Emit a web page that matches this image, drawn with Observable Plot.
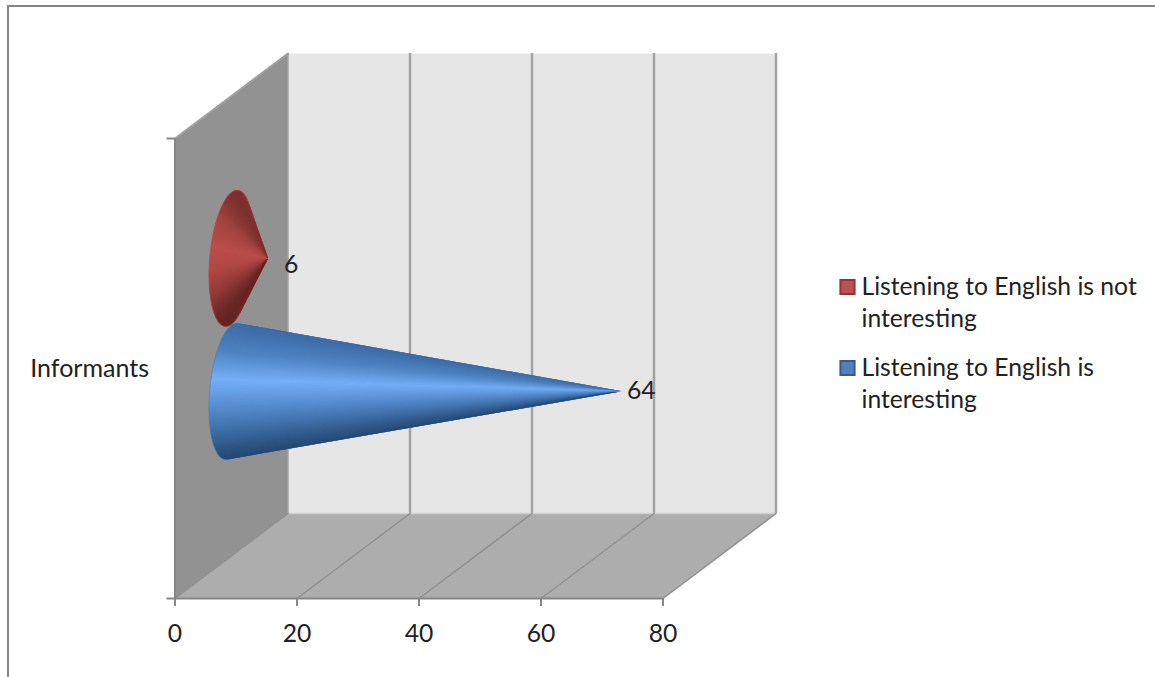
<!DOCTYPE html>
<html>
<head>
<meta charset="utf-8">
<script src="https://cdn.jsdelivr.net/npm/d3@7"></script>
<script src="https://cdn.jsdelivr.net/npm/@observablehq/plot@0.6"></script>
<style>
  html, body { margin: 0; padding: 0; background: #fff; overflow: hidden; }
  #chart { position: relative; width: 1155px; height: 677px; }
  #chart svg { position: absolute; left: 0; top: 0; }
  /* sheet outline: only the top and left edges fall inside the page */
  #sheet { position: absolute; left: 7px; top: 5px; right: -4px; bottom: -4px; border: 2.5px solid #858585; }
</style>
</head>
<body>
<div id="chart"><div id="sheet"></div></div>
<script>
const category = "Informants";
const seriesNames = ["Listening to English is not\ninteresting", "Listening to English is\ninteresting"];
const seriesValues = [6, 64];
const seriesSlots = [0.647, 0.358];      // position of each cone along the category axis
const xTicks = [0, 20, 40, 60, 80];
const yTicks = [0, 1];
const swatchColors = ["#c0504d", "#4f81bd"];
const swatchStrokes = ["#8c3836", "#385d8a"];
const shadeStops = [0, 0.2, 0.41, 0.58, 0.77, 1];
const shadeRamps = [
  ["#7a302e", "#a4443f", "#bb4e4a", "#b04844", "#933b38", "#5f2422"],
  ["#3c6ba5", "#4f83c2", "#75aff7", "#5c93d8", "#4273ad", "#24466f"]
];

// Oblique projection of the 3D chart box: depth 1 is the back wall.
const depthX = 113 / 6.1;
const depthY = 85 / 460;
const project = (value, slot, depth) => ({x: value + depth * depthX, y: slot + depth * depthY});

// Filled polygons for the box walls, as rows tagged by face.
const face = (id, fill, corners) => corners.map(([v, s, d]) => ({id, fill, ...project(v, s, d)}));
const walls = [
  ...face("back", "#e6e6e6", [[0, 0, 1], [80, 0, 1], [80, 1, 1], [0, 1, 1]]),
  ...face("side", "#929292", [[0, 0, 0], [0, 0, 1], [0, 1, 1], [0, 1, 0]]),
  ...face("floor", "#adadad", [[0, 0, 0], [80, 0, 0], [80, 0, 1], [0, 0, 1]])
];
const backGrid = xTicks.slice(1).map((v) => project(v, 0, 1).x);
const floorEdges = xTicks.flatMap((v) => [
  {id: v, ...project(v, 0, 0)},
  {id: v, ...project(v, 0, 1)}
]);
const sideEdges = [
  {id: "top", ...project(0, 1, 0)}, {id: "top", ...project(0, 1, 1)}
];

// Cone lying along x: fan of slices from the tip to the visible arc of the base circle.
const baseDepth = 0.2;    // radius of the base, in depth units
const baseSlot = 0.1435;  // radius of the base, in slot units
function cone(value, slot, ramp) {
  const c = project(0, slot, 0.5);
  const tip = project(value, slot, 0.5);
  const w = baseDepth * depthX, h = baseDepth * depthY;
  const point = (t) => ({
    x: c.x - w * Math.sin(t),
    y: c.y + baseSlot * Math.cos(t) - h * Math.sin(t)
  });
  // Tangents from the tip to the base ellipse bound the visible arc.
  const b = -(tip.x - c.x) / w, a = (h * b) / baseSlot;
  const mid = Math.atan2(b, a) + Math.PI;
  const half = Math.PI - Math.acos(1 / Math.hypot(a, b));
  const n = 260;
  const arc = d3.range(n + 1).map((i) => point(mid - half + (2 * half * i) / n));
  const [lo, hi] = d3.extent(arc, (p) => p.y);
  const shade = d3.scaleLinear().domain(shadeStops).range(ramp);
  // Each slice overlaps the next one so no seams open between them.
  const slices = d3.range(n).flatMap((i) => {
    const color = shade((hi - (arc[i].y + arc[i + 1].y) / 2) / (hi - lo));
    return [tip, arc[i], arc[i + 1], arc[Math.min(i + 2, n)]].map((p) => ({...p, id: i, color}));
  });
  return {slices, arc, outline: [tip, ...arc]};
}
const cones = seriesValues.map((v, i) => cone(v, seriesSlots[i], shadeRamps[i]));

const fontFamily = "Lato, sans-serif";
const textFill = "#222";
const fontSize = 24.7;
const axisStroke = "#868686";

// Value label placed just past a cone's tip.
const valueLabel = (i, dx, dy) => Plot.text([seriesValues[i]], {
  x: project(seriesValues[i], seriesSlots[i], 0.5).x,
  y: project(seriesValues[i], seriesSlots[i], 0.5).y,
  dx, dy, text: (d) => String(d), textAnchor: "start", fontSize, fill: textFill
});

// Legend entry, offset from the frame's top-left corner.
const legendEntry = (i, rowOffset) => [
  Plot.dot([swatchColors[i]], {
    frameAnchor: "top-left", dx: 672.5, dy: 148.5 + rowOffset,
    symbol: "square", r: 8, fill: swatchColors[i], stroke: swatchStrokes[i], strokeWidth: 2
  }),
  Plot.text([seriesNames[i]], {
    frameAnchor: "top-left", dx: 686.5, dy: 134 + rowOffset,
    text: (d) => d, textAnchor: "start", lineAnchor: "top", lineHeight: 1.3, fontSize, fill: textFill
  })
];

const plot = Plot.plot({
  width: 1155,
  height: 677,
  marginLeft: 174.5,
  marginRight: 492.5,
  marginTop: 138,
  marginBottom: 79,
  style: {background: "transparent", fontFamily},
  x: {domain: [0, 80]},
  y: {domain: [0, 1]},
  color: {type: "identity"},
  marks: [
    Plot.line(walls, {x: "x", y: "y", z: "id", fill: "fill", stroke: "none"}),
    Plot.ruleX(backGrid, {y1: project(0, 0, 1).y, y2: project(0, 1, 1).y, stroke: "#a3a3a3", strokeWidth: 2.5}),
    Plot.ruleX([project(0, 0, 1).x], {y1: project(0, 0, 1).y, y2: project(0, 1, 1).y, stroke: "#a3a3a3", strokeWidth: 1.5}),
    Plot.ruleY([project(0, 0, 1).y], {x1: project(0, 0, 1).x, x2: project(80, 0, 1).x, stroke: "#d0d0d0", strokeWidth: 1.5}),
    Plot.line(floorEdges, {x: "x", y: "y", z: "id", stroke: "#909090", strokeWidth: 1.5}),
    Plot.line(sideEdges, {x: "x", y: "y", z: "id", stroke: "#a0a0a0", strokeWidth: 2}),

    ...cones.flatMap((k, i) => [
      Plot.line(k.outline, {x: "x", y: "y", fill: swatchColors[i], stroke: "none"}),
      Plot.line(k.slices, {x: "x", y: "y", z: "id", fill: "color", stroke: "none"}),
      Plot.line(k.arc, {x: "x", y: "y", stroke: swatchColors[i], strokeWidth: 1, strokeOpacity: 0.7})
    ]),

    Plot.ruleX([0], {stroke: axisStroke, strokeWidth: 2}),
    Plot.ruleY([0], {stroke: axisStroke, strokeWidth: 2}),
    Plot.axisX({
      ticks: xTicks, tickSize: 8, tickPadding: 18, stroke: axisStroke, strokeWidth: 2,
      fontSize, fill: textFill, label: null
    }),
    Plot.axisY({
      ticks: yTicks, tickSize: 8, tickFormat: () => "", stroke: axisStroke, strokeWidth: 2, label: null
    }),

    Plot.text([category], {
      x: 0, y: 0.5, dx: -26, textAnchor: "end", fontSize: 25, fill: textFill
    }),
    valueLabel(0, 16, 7),
    valueLabel(1, 5, 0),

    ...legendEntry(0, 0),
    ...legendEntry(1, 81)
  ]
});
document.getElementById("chart").appendChild(plot);
</script>
</body>
</html>
